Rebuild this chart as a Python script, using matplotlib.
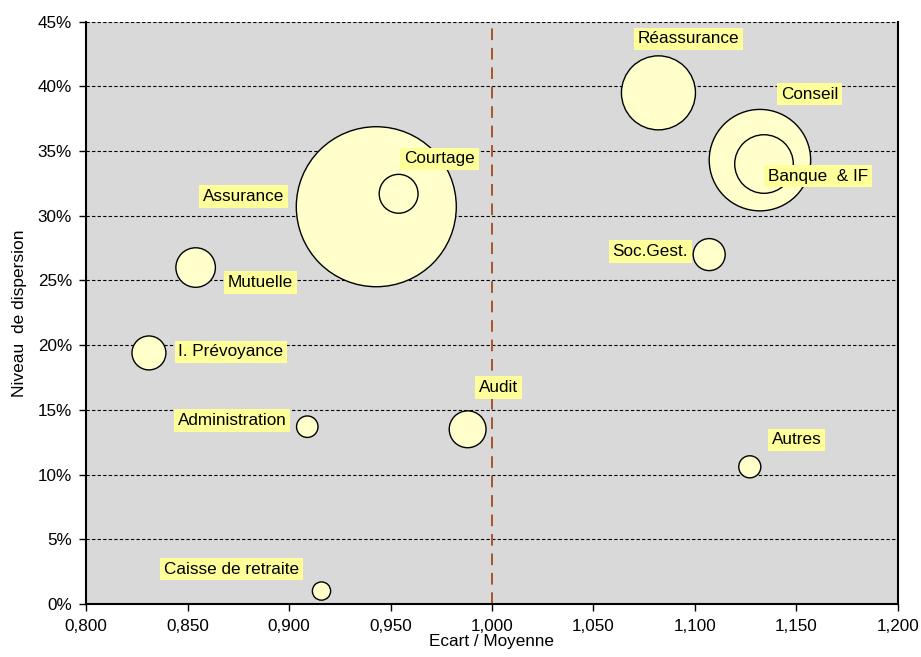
import numpy as np
import matplotlib.pyplot as plt
from matplotlib.ticker import FuncFormatter, MultipleLocator

plt.switch_backend('Agg')
plt.rcParams['font.family'] = ['Liberation Sans', 'DejaVu Sans']

# Secteurs : écart à la moyenne, niveau de dispersion, poids (taille des bulles)
secteurs = ['Réassurance', 'Conseil', 'Banque  & IF', 'Soc.Gest.', 'Assurance',
            'Courtage', 'Mutuelle', 'I. Prévoyance', 'Administration', 'Audit',
            'Autres', 'Caisse de retraite']
ecart = [1.082, 1.132, 1.134, 1.107, 0.943,
         0.954, 0.854, 0.831, 0.909, 0.988,
         1.127, 0.916]
dispersion = [0.395, 0.343, 0.340, 0.270, 0.307,
              0.317, 0.260, 0.194, 0.137, 0.135,
              0.106, 0.010]
poids = [21.4, 40.2, 13.4, 4.0, 100.0,
         5.9, 6.1, 4.5, 1.8, 5.3,
         1.9, 1.3]

# décalage des étiquettes par rapport au centre des bulles (pixels)
label_offsets = [(30, 55), (50, 67), (54, -11), (-59, 4), (-133, 11),
                 (41, 36), (65, -14), (82, 2), (-75, 7), (31, 43),
                 (47, 28), (-90, 23)]

fig = plt.figure(figsize=(9.21, 6.57), dpi=100)
ax = fig.add_axes([0.0934, 0.0807, 0.8816, 0.8863])
ax.set_facecolor('#D9D9D9')

# grosses bulles dessinées en premier
order = np.argsort(poids)[::-1]
x = np.array(ecart)[order]
y = np.array(dispersion)[order]
s = 132.7 * np.array(poids)[order]
ax.scatter(x, y, s=s, facecolor='#FFFFCC', edgecolor='black',
           linewidth=1.0, zorder=3)

for name, xi, yi, off in zip(secteurs, ecart, dispersion, label_offsets):
    ax.annotate(name, (xi, yi), xytext=(off[0], off[1] - 1),
                textcoords='offset pixels', ha='center', va='center',
                fontsize=12.3, zorder=5,
                bbox=dict(boxstyle='square,pad=0.22', facecolor='#FFFF99',
                          edgecolor='none'))

ax.axvline(1.0, color='#A8542A', linestyle=(0, (6, 4)), linewidth=1.4, zorder=2)

ax.set_xlim(0.8, 1.2)
ax.set_ylim(0, 0.45)
ax.xaxis.set_major_locator(MultipleLocator(0.05))
ax.yaxis.set_major_locator(MultipleLocator(0.05))
ax.xaxis.set_major_formatter(FuncFormatter(lambda v, p: f'{v:.3f}'.replace('.', ',')))
ax.yaxis.set_major_formatter(FuncFormatter(lambda v, p: f'{v * 100:.0f}%'))
ax.grid(axis='y', color='black', linestyle=(0, (3, 2)), linewidth=0.8, zorder=1)
ax.set_axisbelow(True)

for side in ['left', 'bottom', 'right']:
    ax.spines[side].set_linewidth(1.5)
ax.spines['top'].set_visible(False)
ax.tick_params(axis='both', direction='out', length=5, width=1, labelsize=12.3)
ax.tick_params(axis='x', pad=6)
ax.tick_params(axis='y', pad=5)

ax.set_xlabel('Ecart / Moyenne', fontsize=12.3, labelpad=0)
ax.set_ylabel('Niveau  de dispersion', fontsize=12.5, labelpad=8)

fig.savefig('out.png', dpi=100)
